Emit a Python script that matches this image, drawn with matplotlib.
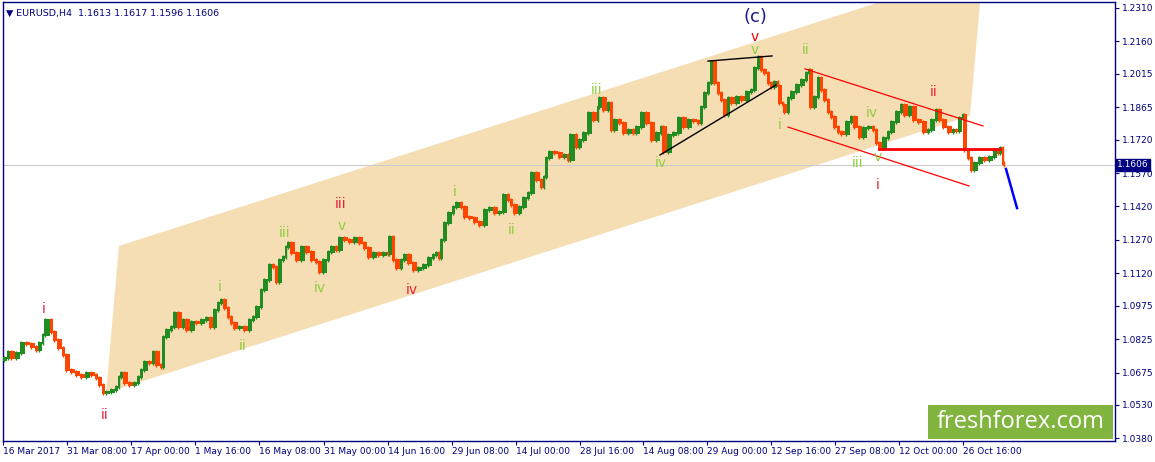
import numpy as np
import matplotlib
matplotlib.use("Agg")
import matplotlib.pyplot as plt
from matplotlib.patches import Polygon, Rectangle
import matplotlib.transforms as mtransforms

# ---------------- data ----------------
symbol_header = "\u25BC EURUSD,H4  1.1613 1.1617 1.1596 1.1606"
last_price = 1.1606
first_open = 1.0730

bars = [0, 4, 7, 12, 17, 22, 27, 32, 35, 39, 41, 47, 50, 54, 59, 62, 67, 72, 77, 82,
        87, 92, 95, 99, 102, 107, 112, 115, 117, 120, 125, 130, 134, 137, 140, 145, 149, 152, 157, 159,
        162, 167, 170, 174, 179, 182, 187, 192, 197, 202, 206, 210, 214, 217, 220, 224, 227, 230, 235, 240,
        245, 249, 252, 257, 260, 265, 269, 272, 275, 279, 282, 284, 287, 292, 297, 302, 307, 312, 315, 319,
        324, 327, 332, 335, 340, 345, 350, 355, 360, 364, 369, 374, 379, 384, 385, 389, 392, 397, 400, 404,
        409, 414, 419, 424, 429, 432, 435, 437, 440, 444, 449, 452, 457, 460, 465, 470, 475, 480, 485, 490,
        495, 499, 504, 507, 510, 515, 519, 524, 527, 532, 537, 540, 542, 545, 550, 555, 560, 564, 566, 572,
        575, 579, 584, 589, 594, 595, 599, 604, 607, 610, 615, 619, 624, 629, 632, 637, 642, 647, 652, 657,
        659, 664, 669, 674, 679, 684, 689, 694, 697, 700, 704, 707, 710, 714, 717, 720, 724, 727, 732, 737,
        742, 747, 750, 754, 757, 760, 764, 767, 770, 774, 775, 779, 780, 784, 787, 792, 797, 802, 805, 806,
        810, 814, 817, 820, 824, 827, 830, 834, 837, 842, 847, 850, 855, 859, 864, 869, 872, 875, 879, 884,
        887, 892, 897, 900, 905, 909, 914, 919, 924, 927, 932, 935, 939, 944, 949, 952, 955, 959, 960, 964,
        967, 970, 975, 980, 985, 990, 994, 996, 999, 1000]

closes = [1.0741, 1.0768, 1.0741, 1.0763, 1.0808, 1.0803, 1.0790, 1.0776, 1.0808, 1.0844,
          1.0911, 1.0857, 1.0821, 1.0785, 1.0754, 1.0687, 1.0678, 1.0664, 1.0655, 1.0673,
          1.0664, 1.0651, 1.0620, 1.0584, 1.0588, 1.0597, 1.0611, 1.0655, 1.0673, 1.0629,
          1.0620, 1.0629, 1.0655, 1.0687, 1.0723, 1.0718, 1.0768, 1.0709, 1.0700, 1.0835,
          1.0866, 1.0880, 1.0942, 1.0880, 1.0911, 1.0866, 1.0902, 1.0897, 1.0911, 1.0920,
          1.0880, 1.0956, 1.0987, 1.1001, 1.0965, 1.0924, 1.0898, 1.0875, 1.0880, 1.0866,
          1.0911, 1.0924, 1.0969, 1.1046, 1.1090, 1.1158, 1.1149, 1.1081, 1.1180, 1.1193,
          1.1238, 1.1256, 1.1211, 1.1180, 1.1238, 1.1216, 1.1180, 1.1171, 1.1126, 1.1180,
          1.1216, 1.1238, 1.1225, 1.1279, 1.1270, 1.1261, 1.1279, 1.1256, 1.1234, 1.1193,
          1.1211, 1.1202, 1.1211, 1.1207, 1.1283, 1.1180, 1.1144, 1.1180, 1.1202, 1.1167,
          1.1135, 1.1144, 1.1158, 1.1189, 1.1202, 1.1211, 1.1189, 1.1270, 1.1346, 1.1391,
          1.1418, 1.1436, 1.1418, 1.1373, 1.1368, 1.1350, 1.1337, 1.1404, 1.1413, 1.1391,
          1.1395, 1.1471, 1.1449, 1.1427, 1.1391, 1.1418, 1.1458, 1.1480, 1.1570, 1.1539,
          1.1507, 1.1552, 1.1637, 1.1664, 1.1660, 1.1642, 1.1651, 1.1628, 1.1741, 1.1687,
          1.1718, 1.1750, 1.1839, 1.1808, 1.1866, 1.1906, 1.1853, 1.1884, 1.1763, 1.1808,
          1.1794, 1.1750, 1.1763, 1.1750, 1.1776, 1.1839, 1.1794, 1.1718, 1.1750, 1.1776,
          1.1664, 1.1741, 1.1750, 1.1817, 1.1776, 1.1808, 1.1803, 1.1794, 1.1866, 1.1929,
          1.1974, 1.2068, 1.1974, 1.1929, 1.1898, 1.1830, 1.1906, 1.1884, 1.1911, 1.1898,
          1.1933, 1.1942, 1.2041, 1.2090, 1.2032, 1.2019, 1.1974, 1.1956, 1.1978, 1.1960,
          1.1884, 1.1875, 1.1844, 1.1906, 1.1933, 1.1965, 1.1987, 1.2019, 1.2032, 1.1866,
          1.1911, 1.1996, 1.1942, 1.1898, 1.1844, 1.1821, 1.1776, 1.1754, 1.1745, 1.1799,
          1.1821, 1.1776, 1.1732, 1.1772, 1.1776, 1.1763, 1.1705, 1.1682, 1.1727, 1.1754,
          1.1799, 1.1844, 1.1875, 1.1830, 1.1866, 1.1808, 1.1799, 1.1754, 1.1763, 1.1808,
          1.1853, 1.1808, 1.1776, 1.1754, 1.1763, 1.1758, 1.1817, 1.1830, 1.1673, 1.1637,
          1.1584, 1.1615, 1.1637, 1.1628, 1.1642, 1.1673, 1.1660, 1.1682, 1.1613, 1.1606]

date_labels = ["16 Mar 2017", "31 Mar 08:00", "17 Apr 00:00", "1 May 16:00", "16 May 08:00",
               "31 May 00:00", "14 Jun 16:00", "29 Jun 08:00", "14 Jul 00:00", "28 Jul 16:00",
               "14 Aug 08:00", "29 Aug 00:00", "12 Sep 16:00", "27 Sep 08:00", "12 Oct 00:00",
               "26 Oct 16:00"]
date_bars = [0, 64, 128, 192, 256, 321, 385, 449, 513, 577, 640, 704, 768, 832, 896, 960]

price_ticks = [1.2310, 1.2160, 1.2015, 1.1865, 1.1720, 1.1570, 1.1420, 1.1270, 1.1120,
               1.0975, 1.0825, 1.0675, 1.0530, 1.0380]

# channel (parallelogram corners: bar, price)
channel_bars = [103, 116, 980, 967]
channel_prices = [1.0584, 1.1243, 1.2485, 1.1826]

# trend lines
tri_top_bars, tri_top_prices = [705, 769], [1.2072, 1.2095]
tri_low_bars, tri_low_prices = [657, 773], [1.1651, 1.1965]
red_up_bars, red_up_prices = [802, 980], [1.2037, 1.1781]
red_low_bars, red_low_prices = [785, 966], [1.1776, 1.1512]
level_bars, level_price = [876, 997], 1.1678
fc_bars, fc_prices = [1003, 1014], [1.1588, 1.1413]

# wave labels: text, bar, price, colour key
wave_labels = [
    ("(c)", 752, 1.2270, "navy"), ("v", 752, 1.2180, "red"), ("v", 752, 1.2122, "green"),
    ("ii", 803, 1.2122, "green"), ("ii", 931, 1.1933, "red"), ("iii", 594, 1.1942, "green"),
    ("i", 777, 1.1785, "green"), ("iv", 869, 1.1839, "green"), ("iii", 855, 1.1615, "green"),
    ("v", 875, 1.1642, "green"), ("i", 875, 1.1516, "red"), ("iv", 658, 1.1615, "green"),
    ("i", 452, 1.1485, "green"), ("ii", 509, 1.1315, "green"), ("iii", 338, 1.1431, "red"),
    ("v", 339, 1.1332, "green"), ("iii", 282, 1.1301, "green"), ("iv", 317, 1.1055, "green"),
    ("iv", 409, 1.1046, "red"), ("i", 217, 1.1059, "green"), ("ii", 240, 1.0794, "green"),
    ("i", 41, 1.0960, "red"), ("ii", 102, 1.0485, "red"),
]

# ---------------- drawing ----------------
W, H = 1155, 462
fig = plt.figure(figsize=(W / 100, H / 100), dpi=100)
fig.patch.set_facecolor("white")
ax = fig.add_axes([3 / W, (H - 441) / H, (1115 - 3) / W, (441 - 2) / H])
ax.set_facecolor("white")
ax.set_xlim(0, 1112)
ax.set_ylim(1.03683, 1.23369)

navy = "#000080"
for s in ax.spines.values():
    s.set_color(navy)
    s.set_linewidth(1.0)

# channel
poly = Polygon(list(zip(channel_bars, channel_prices)), closed=True,
               facecolor="#f5deb3", edgecolor="none", zorder=1)
ax.add_patch(poly)

# current price line
ax.axhline(last_price, color="#cccccc", lw=0.8, zorder=1.5)

# candles: body from previous close to close, drawn as thin bars
b = np.array(bars, dtype=float)
c = np.array(closes)
o = np.concatenate([[first_open], c[:-1]])
w = np.diff(b, append=b[-1] + 2)
cols = np.where(c >= o, "#228b22", "#ff4500")
pad = 0.0005  # visual thickness of a bar, in price units
lo = np.minimum(o, c) - pad
hi = np.maximum(o, c) + pad
ax.bar(b, hi - lo, bottom=lo, width=w, align="edge", color=cols, edgecolor="none",
       linewidth=0, zorder=3)
# thin vertical strokes on each bar for a candle texture
ax.vlines(b + 0.5, lo - pad * 0.8, hi + pad * 0.8, colors=cols, linewidth=1.0, zorder=3.1)

# lines
ax.plot(tri_top_bars, tri_top_prices, color="black", lw=1.0, zorder=4)
ax.plot(tri_low_bars, tri_low_prices, color="black", lw=1.0, zorder=4)
ax.plot(red_up_bars, red_up_prices, color="red", lw=0.9, zorder=4)
ax.plot(red_low_bars, red_low_prices, color="red", lw=0.9, zorder=4)
ax.plot(level_bars, [level_price, level_price], color="red", lw=2.0, zorder=4)
ax.plot(fc_bars, fc_prices, color="#0000ff", lw=1.8, zorder=4)

label_colors = {"green": "#8fce3f", "red": "#e8213b", "navy": "#1c1c8c"}
for txt, xb, yp, ck in wave_labels:
    fs = 13 if txt == "(c)" else 10
    col = label_colors[ck]
    if txt == "v" and yp > 1.215:
        col = "#ff0000"
    ax.text(xb, yp, txt, color=col, fontsize=fs, ha="center", va="center",
            family="DejaVu Sans", zorder=5)

# axes ticks
ax.yaxis.tick_right()
ax.set_yticks(price_ticks)
ax.set_yticklabels([f"{p:.4f}" for p in price_ticks])
ax.set_xticks(date_bars)
ax.set_xticklabels(date_labels)
ax.tick_params(axis="y", direction="out", length=3, width=0.8, color=navy,
               labelcolor=navy, labelsize=6.5, pad=2)
ax.tick_params(axis="x", direction="out", length=3, width=0.8, color=navy,
               labelcolor=navy, labelsize=6.5, pad=1.5)
for lab in ax.get_xticklabels():
    lab.set_horizontalalignment("left")

# current price box
trans = mtransforms.blended_transform_factory(ax.transAxes, ax.transData)
ax.text(1.002, last_price, "1.1606", transform=trans, color="white", fontsize=6.5,
        ha="left", va="center", zorder=10, clip_on=False,
        bbox=dict(boxstyle="square,pad=0.15", facecolor=navy, edgecolor=navy))

# header
ax.text(0.003, 0.985, symbol_header, transform=ax.transAxes, color=navy, fontsize=6.8,
        ha="left", va="top", family="DejaVu Sans", zorder=6)

# logo
fig.patches.append(Rectangle((928 / W, (H - 439) / H), (1113 - 928) / W, 34 / H,
                             transform=fig.transFigure, facecolor="#82b440",
                             edgecolor="none", zorder=20))
fig.text(1021 / W, (H - 422) / H, "freshforex.com", color="white", fontsize=17,
         family="Open Sans", ha="center", va="center", zorder=21)

fig.savefig("out.png", dpi=100)
